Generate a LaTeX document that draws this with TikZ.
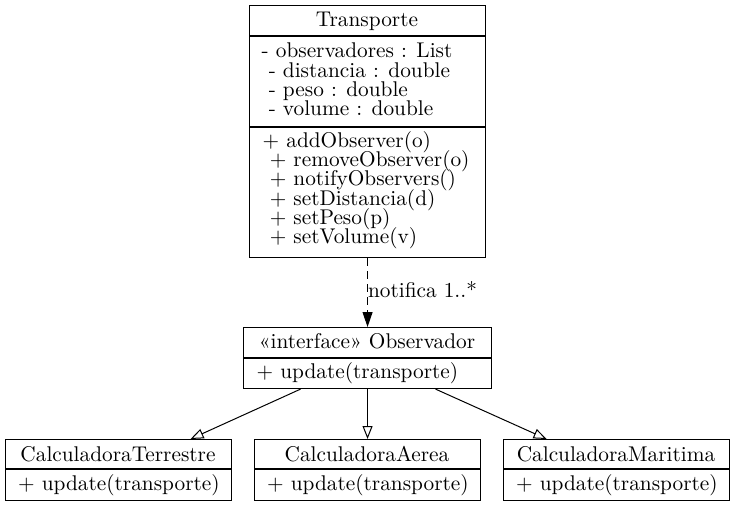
\documentclass[tikz,border=0pt]{standalone}
\usepackage{fontspec}
\usepackage{tikz}
\usetikzlibrary{arrows.meta,
                calc, % for shifted anchors
                positioning}

\newfontfamily\umlface{lmroman10-regular.otf}
\newcommand\umlfont{\umlface\fontsize{21.3}{24}\selectfont}

\begin{document}
\begin{tikzpicture}[x=1pt, y=-1pt,
                    classbox/.style={draw, line width=1.1pt, inner sep=0, anchor=north west},
                    title/.style={anchor=base, inner sep=0, font=\umlfont},
                    member/.style={anchor=base west, inner sep=0, text height=13pt, text depth=4pt, font=\umlfont},
                    realize/.style={-{Triangle[open, length=13pt, width=10pt]}, line width=1pt},
                    notify/.style={-{Triangle[length=15pt, width=10pt]}, dash pattern=on 8pt off 5pt, line width=1pt}
                    ]
        \useasboundingbox (0,0) rectangle (735,507);

        % subject
        \node[classbox, minimum width=236, minimum height=252] (transporte) at (249,5) {};
        \draw[line width=1.1pt] (249,36) -- (485,36) (249,127) -- (485,127);
        \node[title] (transporteT) at (367,26) {Transporte};
        \foreach \txt [count=\i from 0] in {- observadores : List, \ - distancia : double,
                                            \ - peso : double, \ - volume : double}
            \node[member] (attr\i) at (261.5, 57.7+19.3*\i) {\txt};
        \foreach \txt [count=\i from 0] in {+ addObserver(o), \ + removeObserver(o),
                                            \ + notifyObservers(), \ + setDistancia(d),
                                            \ + setPeso(p), \ + setVolume(v)}
            \node[member] (meth\i) at (262.5, 147.7+19.1*\i) {\txt};

        % observer interface
        \node[classbox, minimum width=248, minimum height=61] (observador) at (243,327) {};
        \draw[line width=1.1pt] (243,358) -- (491,358);
        \node[title] (observadorT) at (367,348) {«interface» Observador};
        \node[member] (observadorM) at (256.5,378) {+ update(transporte)};

        % concrete observers
        \foreach \nm/\lbl/\xl in {terrestre/CalculadoraTerrestre/5,
                                  aerea/CalculadoraAerea/254,
                                  maritima/CalculadoraMaritima/503} {
            \node[classbox, minimum width=226, minimum height=61] (\nm) at (\xl,439) {};
            \draw[line width=1.1pt] (\xl,469) -- (\xl+226,469);
            \node[title] (\nm T) at (\xl+113,461) {\lbl};
            \node[member] (\nm M) at (\xl+13,490) {+ update(transporte)};
        }

        \draw[notify] (transporte.south) -- (observador.north)
            node[pos=0.5, anchor=base west, inner sep=0, yshift=-4.7pt, font=\umlfont] (notifica) {notifica 1..*};
        \draw[realize] ([xshift=-67pt]observador.south) -- ([xshift=72pt]terrestre.north);
        \draw[realize] (observador.south) -- (aerea.north);
        \draw[realize] ([xshift=68pt]observador.south) -- ([xshift=-70pt]maritima.north);
    \end{tikzpicture}
\end{document}
